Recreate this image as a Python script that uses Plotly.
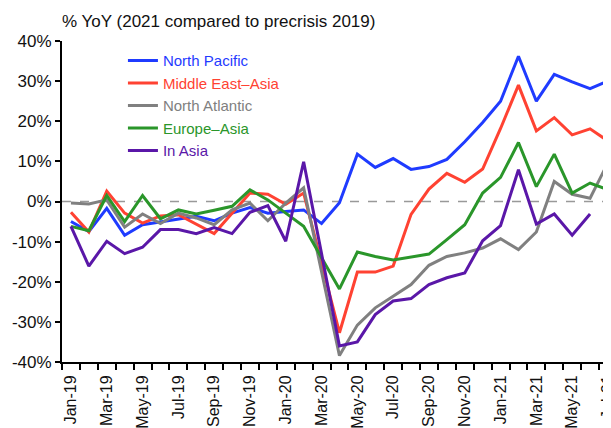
import plotly.graph_objects as go

months = ["Jan-19", "Feb-19", "Mar-19", "Apr-19", "May-19", "Jun-19", "Jul-19", "Aug-19",
          "Sep-19", "Oct-19", "Nov-19", "Dec-19", "Jan-20", "Feb-20", "Mar-20", "Apr-20",
          "May-20", "Jun-20", "Jul-20", "Aug-20", "Sep-20", "Oct-20", "Nov-20", "Dec-20",
          "Jan-21", "Feb-21", "Mar-21", "Apr-21", "May-21", "Jun-21", "Jul-21"]

north_pacific = [-5.0, -7.5, -1.7, -8.4, -5.8, -5.1, -4.3, -3.7, -4.8, -2.9, -1.5, -2.9,
                 -2.5, -2.1, -5.5, -0.3, 11.8, 8.5, 10.7, 8.0, 8.7, 10.5, 14.9, 19.7,
                 25.0, 36.2, 25.0, 31.7, 29.8, 28.1, 30.0]
middle_east_asia = [-2.7, -7.6, 2.6, -2.9, -5.4, -3.6, -3.3, -5.6, -8.0, -2.9, 2.1, 1.8,
                    -0.7, 2.1, -15.3, -32.7, -17.6, -17.6, -16.1, -3.2, 3.1, 7.0, 4.8, 8.1,
                    18.2, 29.0, 17.6, 20.9, 16.6, 18.1, 15.1]
north_atlantic = [-0.4, -0.6, 0.4, -6.4, -3.1, -5.5, -2.9, -4.1, -5.8, -2.1, -0.4, -4.8,
                  -0.4, 3.4, -17.5, -38.4, -30.8, -26.5, -23.6, -20.7, -15.9, -13.7, -12.8, -11.6,
                  -9.3, -12.0, -7.6, 5.0, 1.8, 0.8, 9.7]
europe_asia = [-6.2, -7.3, 1.5, -5.0, 1.5, -4.3, -2.1, -3.1, -2.2, -1.2, 2.9, 0.4,
               -2.9, -6.2, -14.0, -21.8, -12.6, -13.7, -14.6, -13.9, -13.1, -9.5, -5.8, 2.1,
               6.0, 14.7, 3.7, 11.8, 2.1, 4.6, 2.9]
in_asia = [-6.2, -16.1, -9.9, -13.0, -11.4, -7.0, -7.0, -8.0, -6.5, -8.0, -2.7, -1.0,
           -9.9, 9.9, -13.0, -36.0, -35.0, -28.2, -24.8, -24.2, -20.7, -19.0, -17.8, -9.8,
           -6.0, 7.9, -5.6, -3.1, -8.4, -3.1, None]

series = [
    ("North Pacific", north_pacific, "#1f3bff"),
    ("Middle East–Asia", middle_east_asia, "#ff4232"),
    ("North Atlantic", north_atlantic, "#808080"),
    ("Europe–Asia", europe_asia, "#2a962a"),
    ("In Asia", in_asia, "#5a17a8"),
]

y_ticks = [-40, -30, -20, -10, 0, 10, 20, 30, 40]
y_tick_labels = ["-40%", "-30%", "-20%", "-10%", "0%", "10%", "20%", "30%", "40%"]
x_tick_labels = [m if i % 2 == 0 else "" for i, m in enumerate(months)]

font = "Liberation Sans, Arial, sans-serif"

fig = go.Figure()

for name, values, color in series:
    fig.add_trace(go.Scatter(
        x=months, y=values, mode="lines",
        name=f'<span style="color:{color}">{name}</span>',
        line=dict(color=color, width=3),
    ))

# dashed zero line
fig.add_shape(type="line", xref="paper", x0=0, x1=1, yref="y", y0=0, y1=0,
              line=dict(color="#999999", width=1.5, dash="dash"), layer="below")

fig.add_annotation(text="% YoY (2021 compared to precrisis 2019)",
                   xref="paper", yref="paper", x=-0.004, y=1.061,
                   xanchor="left", yanchor="middle", showarrow=False,
                   font=dict(family=font, size=17, color="#111111"))

# the page body adds an 8px offset, so the figure is sized to the visible area
fig.update_layout(
    width=603, height=420,
    margin=dict(l=54, r=0, t=33, b=66),
    paper_bgcolor="white", plot_bgcolor="white",
    font=dict(family=font, size=17, color="#111111"),
    showlegend=True,
    legend=dict(x=0.111, y=0.99, xanchor="left", yanchor="top",
                bgcolor="rgba(0,0,0,0)", font=dict(family=font, size=15),
                tracegroupgap=0),
)

fig.update_xaxes(
    type="category", range=[-0.5, 30.17], automargin=False,
    tickmode="array", tickvals=months, ticktext=x_tick_labels,
    tickson="boundaries", ticks="outside", ticklen=6, tickwidth=2, tickcolor="black",
    tickangle=-90, ticklabelstandoff=5, ticklabeloverflow="allow",
    showline=True, linecolor="black", linewidth=2,
    showgrid=False, zeroline=False,
    tickfont=dict(family=font, size=16, color="#111111"),
)

fig.update_yaxes(
    range=[-40, 40], automargin=False,
    tickmode="array", tickvals=y_ticks, ticktext=y_tick_labels,
    ticks="outside", ticklen=5, tickwidth=2, tickcolor="black",
    showline=True, linecolor="black", linewidth=2,
    showgrid=False, zeroline=False,
    tickfont=dict(family=font, size=17, color="#111111"),
)

fig.write_html("out.html")
